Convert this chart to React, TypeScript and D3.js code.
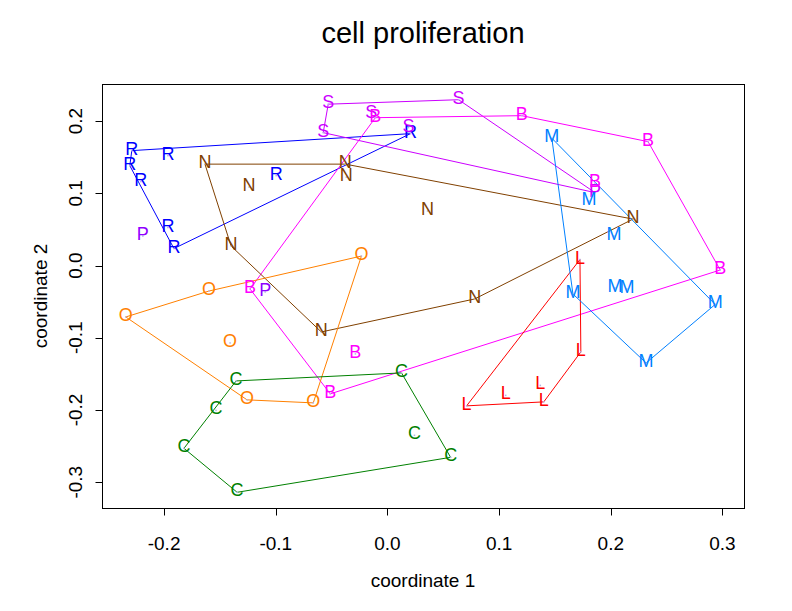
import React from "react";
import * as d3 from "d3";

const groupNames = ["R", "S", "B", "P", "N", "O", "C", "L", "M"];
const groupColors = ["#0000FF", "#CC00FF", "#FF00FF", "#8F00FF", "#804000", "#FF8000", "#008000", "#FF0000", "#0080FF"];

const ptGroup = [
  "R", "R", "R", "R", "R", "R", "R", "R",
  "S", "S", "S", "S", "S", "S",
  "B", "B", "B", "B", "B", "B", "B", "B",
  "P", "P",
  "N", "N", "N", "N", "N", "N", "N", "N", "N",
  "O", "O", "O", "O", "O", "O",
  "C", "C", "C", "C", "C", "C", "C",
  "L", "L", "L", "L", "L", "L",
  "M", "M", "M", "M", "M", "M", "M", "M",
];
const ptLabel = [
  "R", "R", "R", "R", "R", "R", "R", "R",
  "S", "S", "S", "S", "S", "P",
  "B", "B", "B", "B", "B", "B", "B", "B",
  "P", "P",
  "N", "N", "N", "N", "N", "N", "N", "N", "N",
  "O", "O", "O", "O", "O", "O",
  "C", "C", "C", "C", "C", "C", "C",
  "L", "L", "L", "L", "L", "L",
  "M", "M", "M", "M", "M", "M", "M", "M",
];
const ptX = [
  -0.2289, -0.1966, -0.2307, -0.2208, -0.1966, -0.1912, -0.0996, 0.0206,
  -0.0530, -0.0144, -0.0575, 0.0637, 0.0189, 0.1858,
  -0.0108, 0.1203, 0.2334, 0.2980, -0.0512, -0.1230, -0.0287, 0.1858,
  -0.2190, -0.1095,
  -0.1634, -0.1239, -0.1400, -0.0377, -0.0368, 0.0359, 0.2199, 0.0781, -0.0592,
  -0.0233, -0.1598, -0.2343, -0.1409, -0.1257, -0.0664,
  -0.1355, -0.1535, -0.1822, -0.1346, 0.0126, 0.0242, 0.0566,
  0.1724, 0.1732, 0.1369, 0.1400, 0.1059, 0.0709,
  0.1472, 0.1804, 0.2029, 0.1661, 0.2038, 0.2145, 0.2935, 0.2316,
];
const ptY = [
  0.1591, 0.1521, 0.1383, 0.1162, 0.0526, 0.0235, 0.1245, 0.1826,
  0.2234, 0.2102, 0.1840, 0.2296, 0.1909, 0.1010,
  0.2047, 0.2075, 0.1715, -0.0062, -0.1777, -0.0325, -0.1224, 0.1141,
  0.0408, -0.0367,
  0.1404, 0.1086, 0.0270, 0.1404, 0.1224, 0.0754, 0.0643, -0.0463, -0.0920,
  0.0131, -0.0353, -0.0712, -0.1072, -0.1860, -0.1902,
  -0.1598, -0.2006, -0.2531, -0.3140, -0.1487, -0.2351, -0.2656,
  0.0083, -0.1196, -0.1660, -0.1888, -0.1798, -0.1943,
  0.1763, 0.0892, 0.0408, -0.0394, -0.0311, -0.0325, -0.0539, -0.1349,
];

const xTicks = [-0.2, -0.1, 0.0, 0.1, 0.2, 0.3];
const yTicks = [-0.3, -0.2, -0.1, 0.0, 0.1, 0.2];

const titleText = "cell proliferation";
const xLabel = "coordinate 1";
const yLabel = "coordinate 2";

const W = 792;
const H = 611;
const L = 102, R = 744, T = 84, B = 508;
const FONT = "'Liberation Sans', Arial, Helvetica, sans-serif";

function padExtent(vals: number[]): [number, number] {
  const [mn, mx] = d3.extent(vals) as [number, number];
  const p = (mx - mn) * 0.04;
  return [mn - p, mx + p];
}

export default function App() {
  const x = d3.scaleLinear().domain(padExtent(ptX)).range([L, R]);
  const y = d3.scaleLinear().domain(padExtent(ptY)).range([B, T]);
  const colorOf = (g: string) => groupColors[groupNames.indexOf(g)];

  const hulls = groupNames.map((g) => {
    const pts: [number, number][] = [];
    ptGroup.forEach((pg, i) => {
      if (pg === g) pts.push([x(ptX[i]), y(ptY[i])]);
    });
    const hull = pts.length >= 3 ? d3.polygonHull(pts) : null;
    return { g, hull };
  });

  const line = d3.line<[number, number]>().curve(d3.curveLinearClosed);

  return (
    <svg width={W} height={H} style={{ position: "absolute", left: 0, top: 0, background: "#fff" }} fontFamily={FONT}>
      <rect x={0} y={0} width={W} height={H} fill="#fff" />
      <text x={(L + R) / 2} y={43} textAnchor="middle" fontSize={29} fill="#000">{titleText}</text>
      {hulls.map(({ g, hull }) =>
        hull ? (
          <path key={"h" + g} d={line(hull) || ""} fill="none" stroke={colorOf(g)} strokeWidth={1} />
        ) : null
      )}
      {ptX.map((v, i) => (
        <rect key={"d" + i} x={x(v) - 0.75} y={y(ptY[i]) - 0.75} width={1.5} height={1.5} fill="#b4b4e6" />
      ))}
      {ptX.map((v, i) => (
        <text key={"t" + i} x={x(v)} y={y(ptY[i]) + 4} textAnchor="middle" fontSize={18} fill={colorOf(ptGroup[i])}>
          {ptLabel[i]}
        </text>
      ))}
      <rect x={L + 0.5} y={T + 0.5} width={R - L} height={B - T} fill="none" stroke="#000" strokeWidth={1} />
      {xTicks.map((t) => (
        <g key={"xt" + t}>
          <line x1={Math.round(x(t)) + 0.5} x2={Math.round(x(t)) + 0.5} y1={B + 0.5} y2={B + 7.5} stroke="#000" />
          <text x={x(t)} y={550} textAnchor="middle" fontSize={19} fill="#000">{t.toFixed(1)}</text>
        </g>
      ))}
      {yTicks.map((t) => (
        <g key={"yt" + t}>
          <line x1={L - 6.5} x2={L + 0.5} y1={Math.round(y(t)) + 0.5} y2={Math.round(y(t)) + 0.5} stroke="#000" />
          <text transform={`translate(82,${y(t)}) rotate(-90)`} textAnchor="middle" fontSize={19} fill="#000">{t.toFixed(1)}</text>
        </g>
      ))}
      <text x={(L + R) / 2} y={587} textAnchor="middle" fontSize={19} fill="#000">{xLabel}</text>
      <text transform={`translate(47,${(T + B) / 2}) rotate(-90)`} textAnchor="middle" fontSize={19} fill="#000">{yLabel}</text>
    </svg>
  );
}
